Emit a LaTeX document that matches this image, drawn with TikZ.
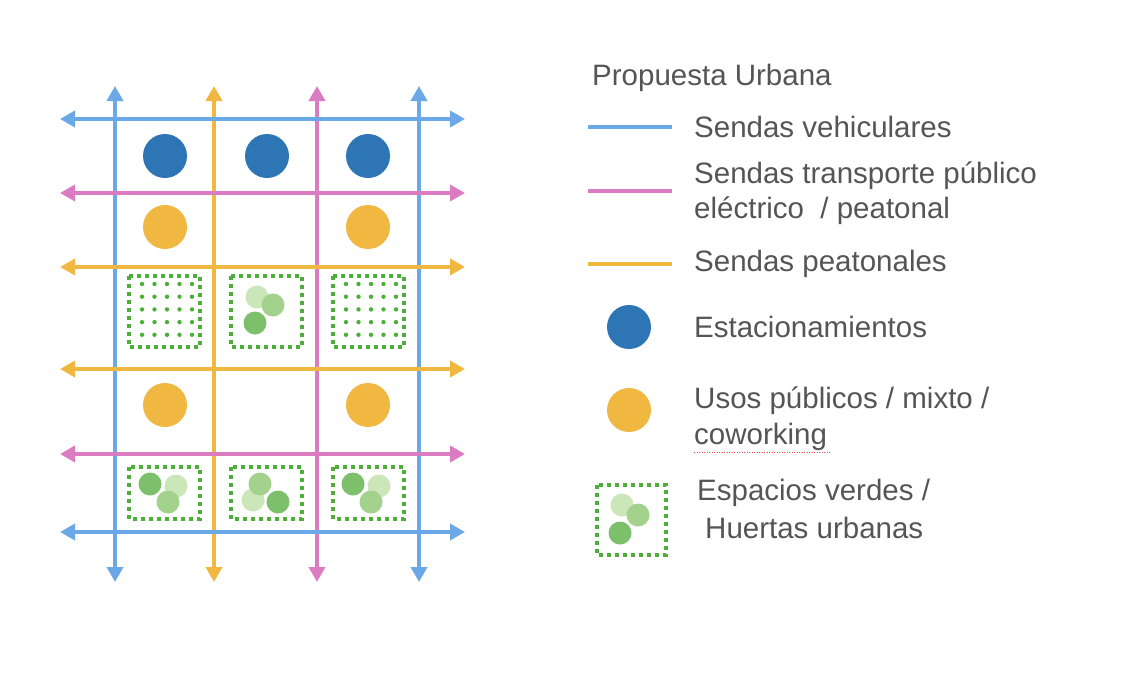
\documentclass[tikz,border=0pt]{standalone}
\usepackage{fontspec}
\setmainfont{Liberation Sans}
\usetikzlibrary{arrows.meta}
\definecolor{cblue}{HTML}{6AA8E8}
\definecolor{cpink}{HTML}{DB7BC1}
\definecolor{cyel}{HTML}{F0B840}
\definecolor{cdblue}{HTML}{2E75B6}
\definecolor{cgreen}{HTML}{4CAF3A}
\definecolor{gl}{HTML}{CBE6B8}
\definecolor{gm}{HTML}{A3D28C}
\definecolor{gd}{HTML}{7CC06C}
\definecolor{txt}{HTML}{555555}
\begin{document}
\begin{tikzpicture}[x=1pt,y=-1pt,
 road/.style={line width=4pt,{Triangle[width=16pt,length=15pt]}-{Triangle[width=16pt,length=15pt]}},
 green box/.style={draw=cgreen,line width=4pt,dash pattern=on 4pt off 4pt},
 lab/.style={anchor=west,text=txt,font=\fontsize{29.5}{34}\selectfont,inner sep=0pt},
 legline/.style={line width=4pt}]
\useasboundingbox (0,0) rectangle (1125,675);
\fill[white] (0,0) rectangle (1125,675);
% vertical roads
\foreach \x/\c in {115/cblue,214/cyel,317/cpink,419/cblue}{
 \coordinate (vt\x) at (\x,86); \coordinate (vb\x) at (\x,582);
 \draw[road,\c] (vb\x) -- (vt\x);}
% horizontal roads
\foreach \y/\c in {119/cblue,193/cpink,267/cyel,369/cyel,454/cpink,532/cblue}{
 \coordinate (hl\y) at (60,\y); \coordinate (hr\y) at (465,\y);
 \draw[road,\c] (hl\y) -- (hr\y);}
% parking
\foreach \x in {165,267,368} \fill[cdblue] (\x,156) circle (22);
\foreach \p in {(165,227),(368,227),(165,405),(368,405)} \fill[cyel] \p circle (22);
% green boxes
\foreach \x in {129,231,333}{
 \draw[green box] (\x,276) rectangle ++(71,71);
 \draw[green box] (\x,467) rectangle ++(71,52);}
\foreach \x in {129,333}\foreach \i in {0,...,4}\foreach \j in {0,...,4}
 \fill[cgreen] ({\x+13+\i*12.5},{284+\j*12.7}) circle (2.2);
\fill[gl] (257,297) circle (11.5); \fill[gm] (273,305) circle (11.5); \fill[gd] (255,323) circle (11.5);
\fill[gl] (176,486) circle (11.5); \fill[gd] (150,484) circle (11.5); \fill[gm] (168,502) circle (11.5);
\fill[gl] (253,500) circle (11.5); \fill[gm] (260,484) circle (11.5); \fill[gd] (278,502) circle (11.5);
\fill[gl] (379,486) circle (11.5); \fill[gd] (353,484) circle (11.5); \fill[gm] (371,502) circle (11.5);
% legend
\node[lab] (title) at (592,78) {Propuesta Urbana};
\draw[legline,cblue] (588,127) -- (672,127);
\node[lab] (l1) at (694,127) {Sendas vehiculares};
\draw[legline,cpink] (588,191) -- (672,191);
\node[lab] (l2) at (694,176) {Sendas transporte público};
\node[lab] (l2b) at (694,211) {eléctrico\ \ / peatonal};
\draw[legline,cyel] (588,264) -- (672,264);
\node[lab] (l3) at (694,264) {Sendas peatonales};
\fill[cdblue] (629,327) circle (22);
\node[lab] (l4) at (694,327) {Estacionamientos};
\fill[cyel] (629,410) circle (22);
\node[lab] (l5) at (694,401) {Usos públicos / mixto /};
\node[lab] (l5b) at (694,437) {coworking};
\draw[red!70,line width=0.9pt,dash pattern=on 1pt off 1.5pt] (694,452) -- (830,452);
\draw[green box] (597,485) rectangle (666,555);
\fill[gl] (622,505) circle (11.5); \fill[gm] (638,515) circle (11.5); \fill[gd] (620,533) circle (11.5);
\node[lab] (l6) at (697,493) {Espacios verdes /};
\node[lab] (l6b) at (705,528) {Huertas urbanas};
\end{tikzpicture}
\end{document}
